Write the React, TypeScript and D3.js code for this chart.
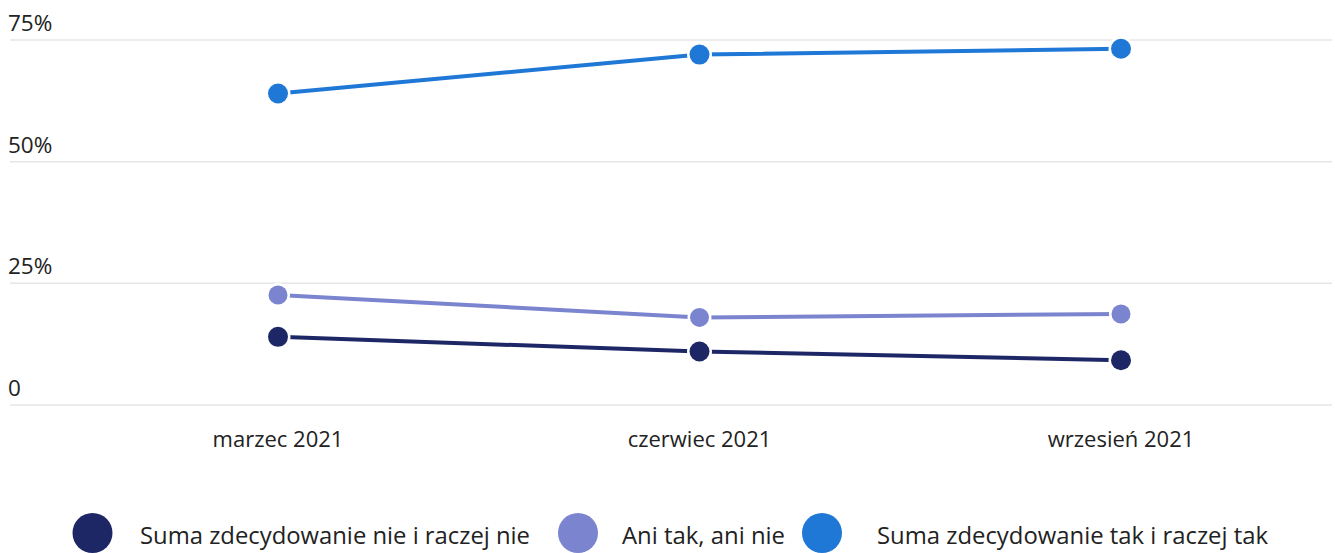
import React from "react";
import * as d3 from "d3";

const categories = ["marzec 2021", "czerwiec 2021", "wrzesień 2021"];
const seriesNames = [
  "Suma zdecydowanie nie i raczej nie",
  "Ani tak, ani nie",
  "Suma zdecydowanie tak i raczej tak",
];
const seriesNie = [14, 11, 9.2];
const seriesAni = [22.6, 18, 18.7];
const seriesTak = [64, 72, 73.2];
const yTicks = [0, 25, 50, 75];
const yTickLabels = ["0", "25%", "50%", "75%"];
const colors = ["#1e2766", "#7b84cf", "#1f77d6"];

const W = 1335;
const H = 553;

export default function App() {
  const x = d3.scalePoint<string>().domain(categories).range([278, 1121]);
  const y = d3.scaleLinear().domain([0, 75]).range([405, 40]);
  const series = [seriesNie, seriesAni, seriesTak];
  const line = d3
    .line<number>()
    .x((_, i) => x(categories[i]) as number)
    .y((d) => y(d));

  const legendX = [92.5, 578, 822];
  const legendTextX = [140, 622, 877];
  const legendLen = [390, 163, 391];

  return (
    <svg
      width={W}
      height={H}
      style={{ position: "absolute", left: 0, top: 0, background: "#fff" }}
      fontFamily="'Open Sans', sans-serif"
    >
      {yTicks.map((t, i) => (
        <g key={t}>
          <line x1={10} x2={1332} y1={y(t)} y2={y(t)} stroke="#e6e6e6" strokeWidth={1.5} />
          <text x={8} y={y(t) - 9} fontSize={22.5} fill="#222">
            {yTickLabels[i]}
          </text>
        </g>
      ))}
      {categories.map((c) => (
        <text key={c} x={x(c)} y={447} fontSize={22} textAnchor="middle" fill="#222">
          {c}
        </text>
      ))}
      {series.map((s, k) => (
        <path key={"l" + k} d={line(s) || ""} fill="none" stroke={colors[k]} strokeWidth={4} />
      ))}
      {series.map((s, k) =>
        s.map((v, i) => (
          <circle
            key={"c" + k + i}
            cx={x(categories[i])}
            cy={y(v)}
            r={k === 1 ? 9.5 : 10}
            fill={colors[k]}
            stroke="#fff"
            strokeWidth={5}
            paintOrder="stroke"
          />
        ))
      )}
      {seriesNames.map((n, k) => (
        <g key={n}>
          <circle cx={legendX[k]} cy={533} r={20} fill={colors[k]} />
          <text
            x={legendTextX[k]}
            y={544}
            fontSize={23}
            fill="#222"
            textLength={legendLen[k]}
            lengthAdjust="spacingAndGlyphs"
          >
            {n}
          </text>
        </g>
      ))}
    </svg>
  );
}
